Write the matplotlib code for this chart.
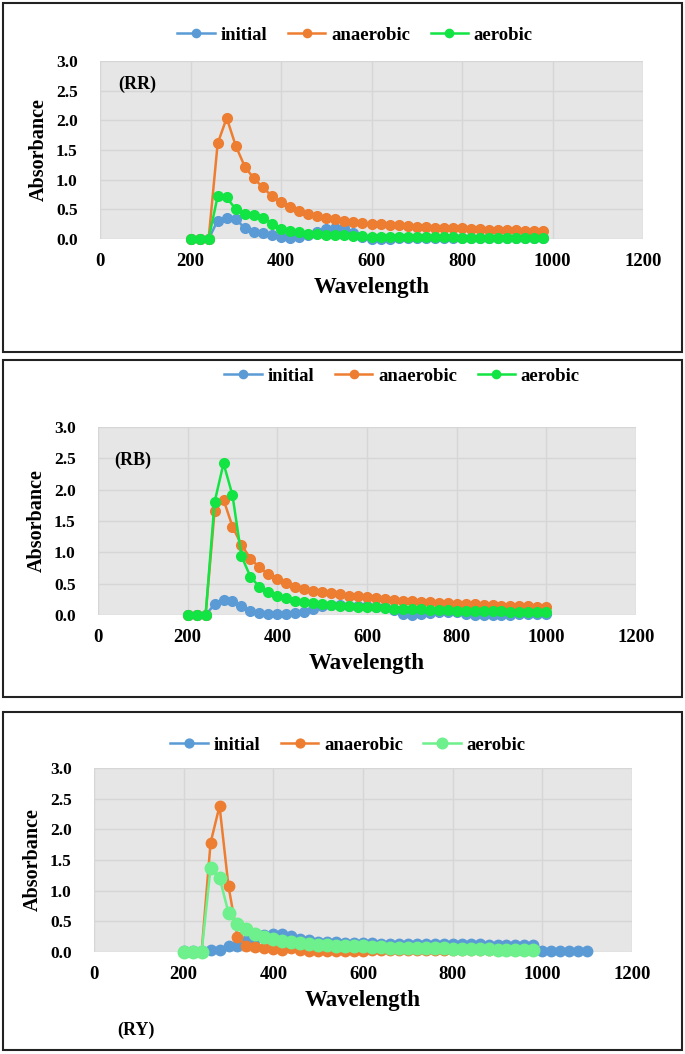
import matplotlib
matplotlib.use("Agg")
import matplotlib.pyplot as plt
from matplotlib.patches import Rectangle

W, H = 685, 1054

# wavelengths (nm)
wl = list(range(200, 1000, 20))          # 200..980
wl_rb = list(range(200, 1020, 20))       # 200..1000
wl_ry_init = list(range(200, 1120, 20))  # 200..1100

# (RR)
init_rr = [0, 0, 0, 0.31, 0.36, 0.34, 0.18, 0.12, 0.10, 0.07,
           0.04, 0.02, 0.03, 0.07, 0.12, 0.17, 0.19, 0.18, 0.10, 0.03,
           0.0, 0.0, 0.0, 0.01, 0.01, 0.01, 0.01, 0.01, 0.01, 0.01,
           0.01, 0.01, 0.01, 0.01, 0.01, 0.01, 0.01, 0.01, 0.01, 0.01]
anaer_rr = [0, 0, 0, 1.61, 2.04, 1.57, 1.22, 1.02, 0.87, 0.72,
            0.62, 0.54, 0.47, 0.42, 0.39, 0.36, 0.33, 0.31, 0.29, 0.27,
            0.26, 0.25, 0.24, 0.23, 0.22, 0.21, 0.20, 0.19, 0.19, 0.18,
            0.18, 0.17, 0.17, 0.16, 0.16, 0.15, 0.15, 0.14, 0.14, 0.13]
aer_rr = [0, 0, 0, 0.72, 0.70, 0.50, 0.42, 0.41, 0.36, 0.26,
          0.17, 0.13, 0.11, 0.09, 0.08, 0.07, 0.06, 0.06, 0.05, 0.05,
          0.04, 0.04, 0.03, 0.03, 0.03, 0.03, 0.03, 0.03, 0.03, 0.03,
          0.02, 0.02, 0.02, 0.02, 0.02, 0.02, 0.02, 0.02, 0.02, 0.02]

# (RB)
init_rb = [0, 0, 0, 0.17, 0.24, 0.22, 0.14, 0.06, 0.03, 0.02,
           0.02, 0.02, 0.03, 0.05, 0.10, 0.14, 0.16, 0.16, 0.15, 0.15,
           0.14, 0.13, 0.12, 0.08, 0.02, 0.00, 0.01, 0.03, 0.05, 0.05,
           0.04, 0.01, 0.00, 0.00, 0.00, 0.00, 0.00, 0.01, 0.02, 0.02,
           0.02]
anaer_rb = [0, 0, 0, 1.66, 1.84, 1.41, 1.12, 0.90, 0.76, 0.65,
            0.57, 0.51, 0.45, 0.41, 0.39, 0.36, 0.35, 0.33, 0.31, 0.30,
            0.28, 0.27, 0.25, 0.24, 0.23, 0.22, 0.21, 0.20, 0.19, 0.19,
            0.18, 0.17, 0.17, 0.16, 0.16, 0.15, 0.15, 0.14, 0.14, 0.13,
            0.13]
aer_rb = [0, 0, 0, 1.80, 2.42, 1.91, 0.94, 0.61, 0.45, 0.37,
          0.31, 0.27, 0.22, 0.20, 0.19, 0.17, 0.16, 0.15, 0.14, 0.13,
          0.12, 0.12, 0.11, 0.10, 0.10, 0.09, 0.09, 0.08, 0.08, 0.08,
          0.07, 0.07, 0.07, 0.06, 0.06, 0.06, 0.05, 0.05, 0.05, 0.05,
          0.05]

# (RY)
init_ry = [0.02, 0.02, 0.02, 0.03, 0.04, 0.10, 0.10, 0.18, 0.22, 0.28,
           0.30, 0.30, 0.26, 0.22, 0.19, 0.17, 0.16, 0.16, 0.15, 0.14,
           0.14, 0.14, 0.13, 0.13, 0.13, 0.13, 0.13, 0.13, 0.13, 0.13,
           0.13, 0.13, 0.13, 0.13, 0.12, 0.12, 0.12, 0.12, 0.12, 0.12,
           0.01, 0.01, 0.01, 0.01, 0.01, 0.01]
anaer_ry = [0, 0, 0, 1.78, 2.38, 1.07, 0.25, 0.10, 0.08, 0.06,
            0.05, 0.04, 0.06, 0.03, 0.02, 0.01, 0.01, 0.01, 0.01, 0.01,
            0.01, 0.03, 0.04, 0.04, 0.04, 0.04, 0.04, 0.04, 0.04, 0.04,
            0.04, 0.03, 0.04, 0.04, 0.03, 0.04, 0.04, 0.04, 0.04, 0.04]
aer_ry = [0, 0, 0, 1.37, 1.21, 0.64, 0.45, 0.37, 0.30, 0.25,
          0.21, 0.18, 0.16, 0.14, 0.13, 0.12, 0.11, 0.10, 0.10, 0.09,
          0.09, 0.08, 0.08, 0.07, 0.07, 0.07, 0.06, 0.06, 0.06, 0.06,
          0.05, 0.05, 0.05, 0.05, 0.05, 0.04, 0.04, 0.04, 0.04, 0.04]

BLUE = '#5B9BD5'
ORANGE = '#ED7D31'
GREEN = '#12E444'
LGREEN = '#6EF08C'

plt.rcParams['font.family'] = ['Liberation Serif', 'DejaVu Serif']
plt.rcParams['font.weight'] = 'bold'

fig = plt.figure(figsize=(W / 100, H / 100), dpi=100)


def rect(l, t, r, b):
    return [l / W, 1 - b / H, (r - l) / W, (b - t) / H]


def box(l, t, r, b):
    fig.patches.append(Rectangle((l / W, 1 - b / H), (r - l) / W, (b - t) / H,
                                 transform=fig.transFigure, fill=False,
                                 edgecolor='#222222', linewidth=1.5))


panels = [
    dict(box=(3, 3, 682, 352), ax=(100, 61, 643, 239), leg=(355, 35),
         series=[(wl, init_rr, BLUE), (wl, anaer_rr, ORANGE), (wl, aer_rr, GREEN)],
         tag='(RR)', tagpos=(137, 84), ms=7),
    dict(box=(3, 360, 682, 697), ax=(98, 427, 636, 615), leg=(402, 376),
         series=[(wl_rb, init_rb, BLUE), (wl_rb, anaer_rb, ORANGE), (wl_rb, aer_rb, GREEN)],
         tag='(RB)', tagpos=(133, 460), ms=7),
    dict(box=(3, 712, 682, 1050), ax=(94, 768, 632, 952), leg=(348, 745),
         series=[(wl_ry_init, init_ry, BLUE), (wl, anaer_ry, ORANGE), (wl, aer_ry, LGREEN)],
         tag='(RY)', tagpos=(136, 1030), ms=7.5),
]
names = ['initial', 'anaerobic', 'aerobic']

for p in panels:
    box(*p['box'])
    ax = fig.add_axes(rect(*p['ax']))
    ax.set_facecolor('#E7E6E6')
    handles = []
    for (x, y, c), n in zip(p['series'], names):
        ms = p['ms'] if c != LGREEN else 9
        h, = ax.plot(x, y, '-o', color=c, lw=1.8, ms=ms, label=n, clip_on=False)
        handles.append(h)
    ax.set_xlim(0, 1200)
    ax.set_ylim(0, 3.0)
    ax.set_xticks(range(0, 1201, 200))
    ax.set_yticks([0, 0.5, 1.0, 1.5, 2.0, 2.5, 3.0])
    ax.set_yticklabels(['%.1f' % v for v in [0, 0.5, 1.0, 1.5, 2.0, 2.5, 3.0]])
    ax.grid(True, color='#D6D6D6', lw=1)
    ax.set_axisbelow(True)
    for s in ax.spines.values():
        s.set_visible(False)
    ax.tick_params(length=0)
    ax.tick_params(axis='x', pad=10, labelsize=13.5)
    ax.tick_params(axis='y', pad=16, labelsize=12.5)
    ax.set_xlabel('Wavelength', fontsize=16.5, fontweight='bold', labelpad=5)
    ax.set_ylabel('Absorbance', fontsize=14.5, fontweight='bold', labelpad=5)
    lx, ly = p['leg']
    fig.legend(handles, names, loc='center', bbox_to_anchor=(lx / W, 1 - ly / H),
               ncol=3, frameon=False, fontsize=13.5, handlelength=2.0,
               columnspacing=1.1, handletextpad=0.3, markerscale=0.85)
    tx, ty = p['tagpos']
    fig.text(tx / W, 1 - ty / H, p['tag'], fontsize=13, fontweight='bold',
             ha='center', va='center')

fig.savefig('out.png', dpi=100)
